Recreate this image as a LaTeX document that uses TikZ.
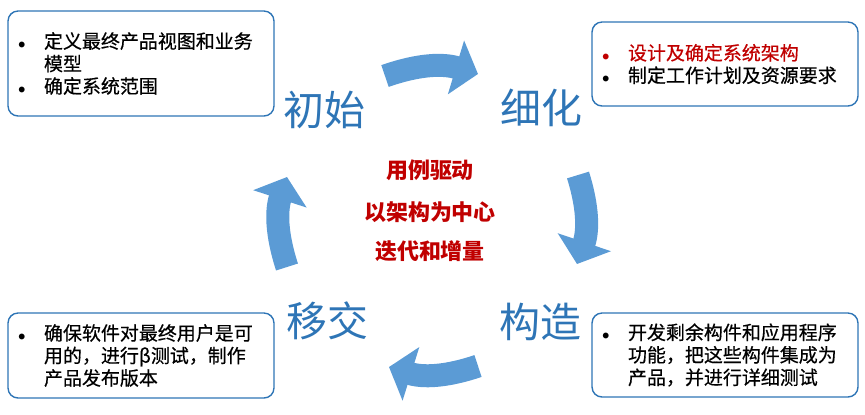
\documentclass[tikz,border=0pt]{standalone}
\usepackage{fontspec}
\setmainfont{Noto Sans CJK SC}
\newfontfamily\boxfont{Noto Sans CJK SC}[FakeBold=0.5]
\usepackage{tikz}
\usetikzlibrary{arrows.meta}
\definecolor{phaseblue}{RGB}{46,117,182}
\definecolor{arrowblue}{RGB}{91,155,213}
\definecolor{keyred}{RGB}{192,0,0}
\tikzset{
    infobox/.style={draw=phaseblue,line width=0.8pt,rounded corners=0.2cm,minimum width=5.32cm,text width=4.92cm,inner xsep=0.2cm,align=left,font=\boxfont\fontsize{10.8}{12.8}\selectfont},
    phase/.style={text=phaseblue,font=\fontsize{23.3}{28}\selectfont},
    core/.style={text=keyred,font=\fontsize{12.5}{15}\selectfont\bfseries},
    cyclearrow/.style={draw=arrowblue,line width=0.46cm,-{Triangle[length=0.46cm,width=1.1cm]},bend left=18}
}
\newcommand{\bul}{\makebox[0.52cm][l]{\footnotesize$\bullet$}}
\newcommand{\ind}{\hspace*{0.52cm}}

\begin{document}
\begin{tikzpicture}[x=0.02cm,y=-0.02cm]
\useasboundingbox (0,0) rectangle (865,414);
% boxes
\node[infobox,minimum height=2.1cm] (initbox) at (141,63.5) {\bul 定义最终产品视图和业务\\ \ind 模型\\ \bul 确定系统范围};
\node[infobox,minimum height=1.68cm] (elabbox) at (725,64) {\textcolor{keyred}{\bul 设计及确定系统架构}\\ \bul 制定工作计划及资源要求};
\node[infobox,minimum height=1.7cm] (transbox) at (141,355.5) {\bul 确保软件对最终用户是可\\ \ind 用的，进行β测试，制作\\ \ind 产品发布版本};
\node[infobox,minimum height=1.68cm] (constbox) at (725,355) {\bul 开发剩余构件和应用程序\\ \ind 功能，把这些构件集成为\\ \ind 产品，并进行详细测试};
% phases
\node[phase] (init) at (324,110) {初始};
\node[phase] (elab) at (541,108) {细化};
\node[phase] (const) at (540,322) {构造};
\node[phase] (trans) at (327,321) {移交};
\node[core] (usecase) at (430,170) {用例驱动};
\node[core] (archcentric) at (430,212) {以架构为中心};
\node[core] (iterative) at (430,251) {迭代和增量};
% cycle
\coordinate (a1) at (385,76);  \coordinate (b1) at (478,74);
\coordinate (a2) at (578,175); \coordinate (b2) at (577,264);
\coordinate (a3) at (478,366); \coordinate (b3) at (389,367);
\coordinate (a4) at (287,267); \coordinate (b4) at (287,177);
\draw[cyclearrow] (a1) to (b1);
\draw[cyclearrow] (a2) to (b2);
\draw[cyclearrow] (a3) to (b3);
\draw[cyclearrow] (a4) to (b4);
\end{tikzpicture}
\end{document}
